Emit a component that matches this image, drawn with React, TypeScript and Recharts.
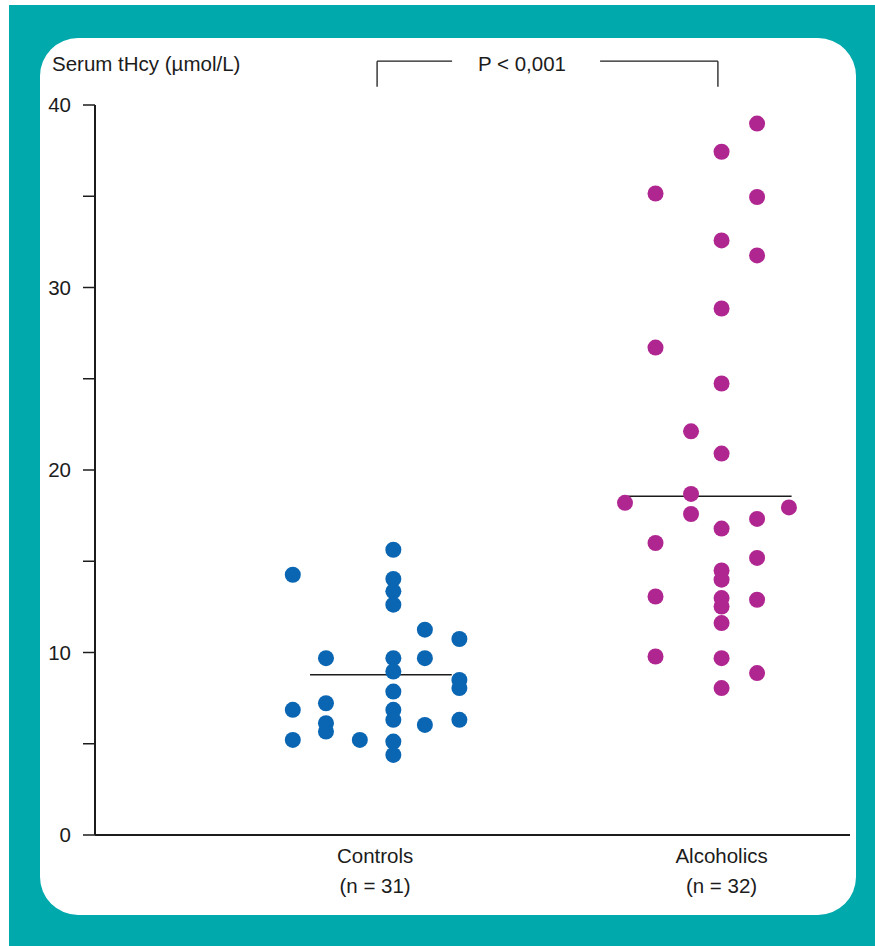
import React from 'react';
import { ScatterChart, Scatter, XAxis, YAxis, ReferenceLine } from 'recharts';

// x = jitter slot along the axis, y = serum tHcy (µmol/L)
const controlsSlot = [
  8.99, 5.96, 8.99, 8.99, 8.99, 9.94, 10.98, 6.96, 8.99, 9.94, 8.99, 10.98, 10.98,
  8.99, 5.96, 8.99, 6.96, 6.96, 6.96, 8.99, 10.98, 9.94, 5.96, 7.98, 8.99, 8.99,
];
const controlsValue = [
  15.63, 14.26, 14.03, 13.35, 12.62, 11.25, 10.74, 9.69, 9.69, 9.69, 8.96, 8.5, 8.05,
  7.86, 6.86, 6.86, 7.22, 6.13, 5.67, 6.31, 6.31, 6.03, 5.21, 5.21, 5.12, 4.39,
];
const alcoholicsSlot = [
  19.95, 18.88, 16.89, 19.95, 18.88, 19.95, 18.88, 16.89, 18.88, 17.96, 18.88, 17.96,
  15.97, 20.91, 17.96, 19.95, 18.88, 16.89, 19.95, 18.88, 18.88, 16.89, 18.88, 19.95,
  18.88, 18.88, 16.89, 18.88, 19.95, 18.88,
];
const alcoholicsValue = [
  38.98, 37.44, 35.15, 34.96, 32.58, 31.76, 28.85, 26.71, 24.74, 22.12, 20.9, 18.69,
  18.2, 17.95, 17.59, 17.32, 16.79, 16.0, 15.18, 14.5, 13.99, 13.07, 12.98, 12.89,
  12.52, 11.61, 9.78, 9.69, 8.87, 8.05,
];

const groupNames = ['Controls', 'Alcoholics'];
const groupCounts = ['(n = 31)', '(n = 32)'];
const groupLabelSlots = [8.44, 18.88];
const medians = [8.78, 18.56];
const medianSpans = [
  [6.48, 10.75],
  [16.06, 20.99],
];
const yTicks = [0, 5, 10, 15, 20, 25, 30, 35, 40];

const controlsData = controlsSlot.map((x, i) => ({ x, y: controlsValue[i] }));
const alcoholicsData = alcoholicsSlot.map((x, i) => ({ x, y: alcoholicsValue[i] }));

const FONT = '"Liberation Sans", Arial, Helvetica, sans-serif';
const INK = '#1c1c1c';

const dot = (color: string) => (props: any) =>
  <circle cx={props.cx} cy={props.cy} r={8} fill={color} />;

const GroupTick = (props: any) => {
  const { x, y, payload } = props;
  const i = groupLabelSlots.indexOf(payload.value);
  if (i < 0) return null;
  return (
    <g>
      <text x={x} y={y} dy={28} textAnchor="middle" fontSize={20.5} fill={INK} fontFamily={FONT}>
        {groupNames[i]}
      </text>
      <text x={x} y={y} dy={58} textAnchor="middle" fontSize={20.5} fill={INK} fontFamily={FONT}>
        {groupCounts[i]}
      </text>
    </g>
  );
};

export default function App() {
  return (
    <div style={{ position: 'absolute', left: 0, top: 0, width: 875, height: 946, fontFamily: FONT }}>
      <div style={{ position: 'absolute', left: 9, top: 5, width: 866, height: 941, background: '#00a9ab' }} />
      <div
        style={{
          position: 'absolute',
          left: 40,
          top: 38,
          width: 816,
          height: 877,
          background: '#ffffff',
          borderRadius: 38,
        }}
      />
      <div style={{ position: 'absolute', left: 52, top: 52, fontSize: 20.5, color: INK, whiteSpace: 'nowrap' }}>
        Serum tHcy (µmol/L)
      </div>
      <div style={{ position: 'absolute', left: 478, top: 52, fontSize: 20.5, color: INK, whiteSpace: 'nowrap' }}>
        P &lt; 0,001
      </div>
      <div style={{ position: 'absolute', left: 0, top: 0 }}>
        <ScatterChart width={875} height={946} margin={{ top: 105, right: 25, bottom: 41, left: 35 }}>
          <XAxis
            type="number"
            dataKey="x"
            domain={[0, 22.75]}
            ticks={groupLabelSlots}
            tick={<GroupTick />}
            tickLine={false}
            tickSize={0}
            tickMargin={0}
            height={70}
            axisLine={{ stroke: INK, strokeWidth: 2 }}
            allowDataOverflow
          />
          <YAxis
            type="number"
            dataKey="y"
            domain={[0, 40]}
            ticks={yTicks}
            width={60}
            tickSize={12}
            tickMargin={12}
            tickFormatter={(v: number) => (v % 10 === 0 ? String(v) : '')}
            tick={{ fontSize: 20.5, fill: INK, fontFamily: FONT }}
            tickLine={{ stroke: INK, strokeWidth: 1.5 }}
            axisLine={{ stroke: INK, strokeWidth: 2 }}
          />
          <Scatter data={controlsData} fill="#0a66b2" shape={dot('#0a66b2')} isAnimationActive={false} />
          <Scatter data={alcoholicsData} fill="#b02691" shape={dot('#b02691')} isAnimationActive={false} />
          {medians.map((m, i) => (
            <ReferenceLine
              key={'med' + i}
              segment={[
                { x: medianSpans[i][0], y: m },
                { x: medianSpans[i][1], y: m },
              ]}
              stroke={INK}
              strokeWidth={1.5}
              ifOverflow="visible"
            />
          ))}
          {/* significance bracket above the plot */}
          <ReferenceLine segment={[{ x: 8.5, y: 41.0 }, { x: 8.5, y: 42.4 }]} stroke={INK} strokeWidth={1.3} ifOverflow="visible" />
          <ReferenceLine segment={[{ x: 8.5, y: 42.4 }, { x: 10.76, y: 42.4 }]} stroke={INK} strokeWidth={1.3} ifOverflow="visible" />
          <ReferenceLine segment={[{ x: 15.22, y: 42.4 }, { x: 18.77, y: 42.4 }]} stroke={INK} strokeWidth={1.3} ifOverflow="visible" />
          <ReferenceLine segment={[{ x: 18.77, y: 42.4 }, { x: 18.77, y: 41.0 }]} stroke={INK} strokeWidth={1.3} ifOverflow="visible" />
        </ScatterChart>
      </div>
    </div>
  );
}
